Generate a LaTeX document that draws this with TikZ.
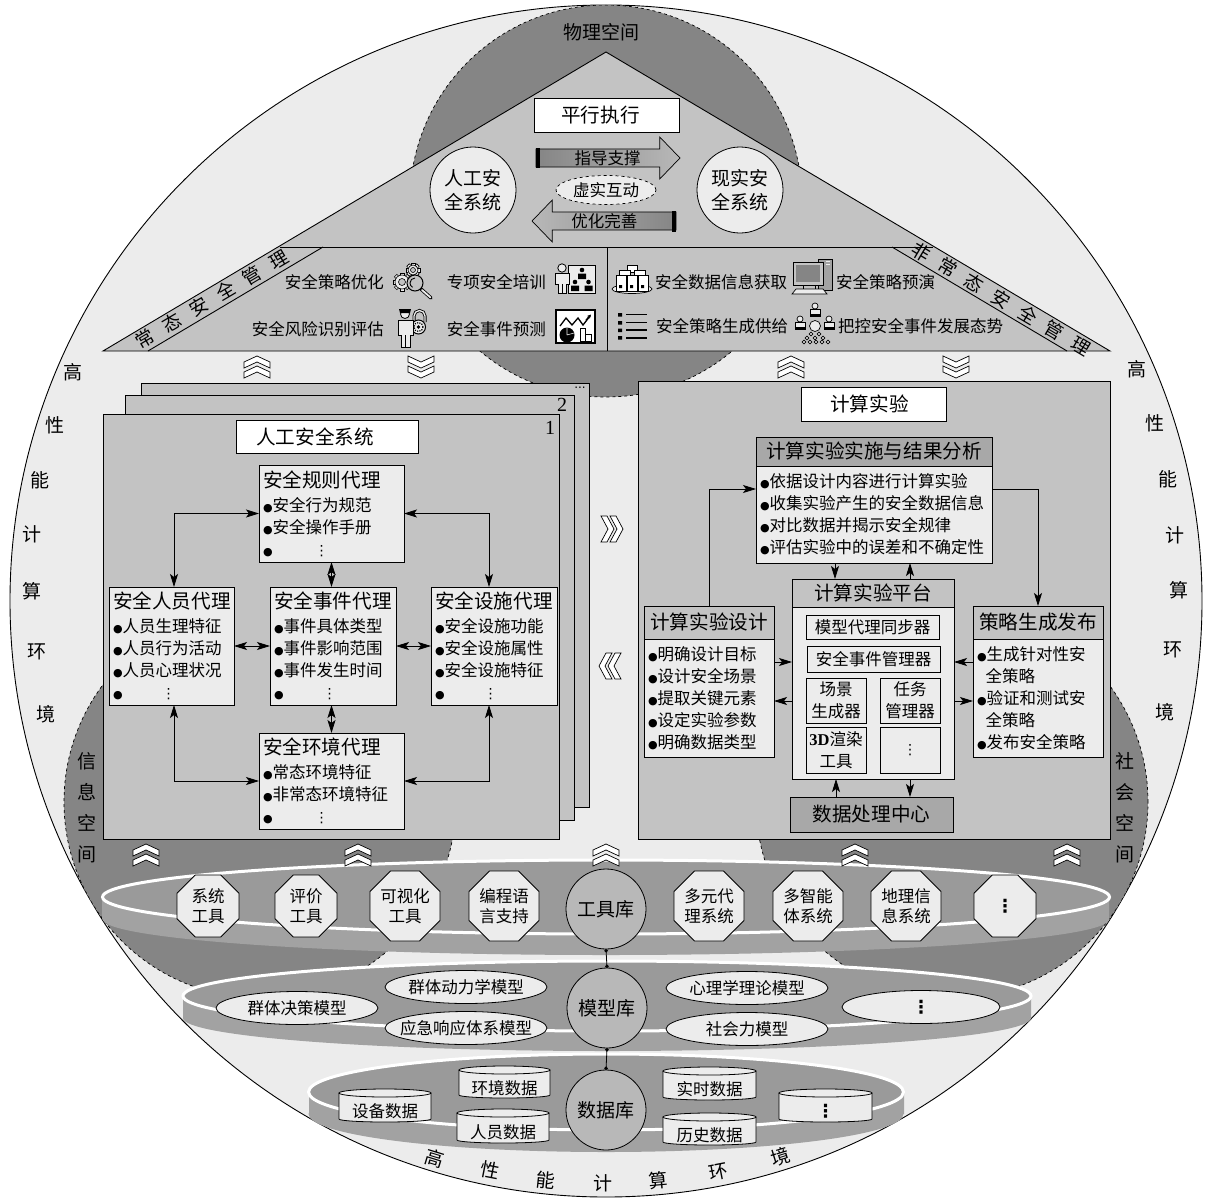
\documentclass[tikz,border=0pt]{standalone}
\usepackage{fontspec}
\setmainfont{Noto Sans CJK SC}
\newfontfamily\dv{DejaVu Sans}
\newfontfamily\lat{Liberation Serif}
\usetikzlibrary{shapes.geometric,shapes.arrows,arrows.meta,calc}
\definecolor{lg}{HTML}{ECECEC}
\definecolor{midg}{HTML}{C3C3C3}
\definecolor{darkg}{HTML}{858585}
\definecolor{layerg}{HTML}{A2A2A2}
\definecolor{layert}{HTML}{9A9A9A}
\definecolor{hubg}{HTML}{B8B8B8}
\definecolor{headg}{HTML}{A8A8A8}
\newcommand\bul{{\dv\fontsize{11}{11}\selectfont ●}}
\newcommand\vd{{\dv\fontsize{14}{14}\selectfont ⋮}}
\newcommand\vdb{{\dv\bfseries\fontsize{18}{18}\selectfont ⋮}}
\newcommand\fsT{\fontsize{19.6}{24}\selectfont}
\newcommand\fsI{\fontsize{16.5}{22}\selectfont}
\newcommand\gp{\hspace{12.5pt}}
\newcommand\gearic[3]{%
  \foreach \a in {0,45,...,315}{\draw[fill=lg,line width=.6pt,shift={(#1,#2)},rotate=\a] (#3-1.5,-1.8) rectangle (#3+2,1.8);}
  \draw[fill=lg,line width=.6pt] (#1,#2) circle[radius={#3 pt}];
  \draw[fill=midg,line width=.6pt] (#1,#2) circle[radius={#3/2 pt}];}
\newcommand\cylnode[6]{%
  \draw[fill=lg,line width=.8pt] (#2,#3+4)--(#2,#5-3) arc[start angle=180,end angle=360,x radius={(#4-#2)/2 pt},y radius=3pt]--(#4,#3+4);
  \draw[fill=lg,line width=.8pt] ({(#2+#4)/2},#3+4) ellipse[x radius={(#4-#2)/2 pt},y radius=4pt];
  \node[lbox={#2}{#3+12}{#4}{#5},draw=none,font=\fontsize{16.5}{20}\selectfont] (#1) {#6};}
\tikzset{
  lbox/.style n args={4}{draw,rectangle,anchor=north west,at={(#1,#2)},
    minimum width={#3-(#1)},minimum height={#4-(#2)},inner sep=0pt,outer sep=0pt,line width=.9pt},
  txbox/.style n args={4}{lbox={#1}{#2}{#3}{#4},fill=lg,align=left,inner xsep=4pt,
    text width={#3-#1-8},font=\fsI},
  titlebox/.style n args={4}{lbox={#1}{#2}{#3}{#4},fill=white,font=\fontsize{19.6}{24}\selectfont},
  headbox/.style n args={4}{lbox={#1}{#2}{#3}{#4},fill=headg,font=\fsT},
  smallbox/.style n args={4}{lbox={#1}{#2}{#3}{#4},fill=lg,align=center,font=\fontsize{16.5}{22}\selectfont},
  lab/.style={inner sep=0pt,font=\fsI},
  sidetx/.style={inner sep=0pt,font=\fontsize{19}{22}\selectfont},
  roundn/.style={circle,draw,fill=lg,minimum size=86pt,inner sep=0pt,outer sep=0pt,align=center,font=\fontsize{19}{24}\selectfont,line width=.8pt},
  hub/.style={circle,draw,fill=hubg,minimum size=80pt,inner sep=0pt,outer sep=0pt,font=\fontsize{19}{24}\selectfont,line width=.8pt},
  octo/.style={regular polygon,regular polygon sides=8,draw,fill=lg,minimum size=67pt,inner sep=0pt,outer sep=0pt,align=center,font=\fontsize{16.5}{20}\selectfont,line width=.8pt},
  ell/.style={ellipse,draw,fill=lg,minimum width=162pt,minimum height=33pt,inner sep=0pt,outer sep=0pt,font=\fontsize{16.5}{20}\selectfont,line width=.8pt},
  dbl/.style={{Stealth[length=13pt,width=8pt,inset=3pt]}-{Stealth[length=13pt,width=8pt,inset=3pt]},line width=.8pt},
  one/.style={-{Stealth[length=13pt,width=8pt,inset=3pt]},line width=.8pt},
  hublink/.style={{Circle[length=3.5pt]}-{Circle[length=3.5pt]},line width=.8pt},
  bigarrow/.style={single arrow,draw,minimum width=42pt,minimum height=144pt,single arrow head extend=10.5pt,single arrow tip angle=92,inner sep=0pt,outer sep=0pt,font=\fsI,line width=.7pt},
  darkcirc/.style={fill=darkg,draw=black,dashed,line width=.7pt},
  pics/upchev/.style={code={
    \draw[fill=white,line width=.7pt] (0,-1)--(13,5)--(13,11)--(0,5)--(-13,11)--(-13,5)--cycle;
    \draw[fill=white,line width=.7pt] (0,-11)--(13,-5)--(13,1)--(0,-5)--(-13,1)--(-13,-5)--cycle;
  }},
  pics/sidechev/.style={code={
    \draw[fill=white,line width=.7pt] (-11,-13)--(-5,-13)--(2,0)--(-5,13)--(-11,13)--(-4,0)--cycle;
    \draw[fill=white,line width=.7pt] (-2,-13)--(4,-13)--(11,0)--(4,13)--(-2,13)--(5,0)--cycle;
  }},
}
\begin{document}
\begin{tikzpicture}[x=1pt,y=-1pt]
\useasboundingbox (0,0) rectangle (1212,1199);
% outer circle
\draw[fill=lg,line width=.9pt] (606,601) circle[radius=596pt];
\begin{scope}
  \clip (606,601) circle[radius=596pt];
  \path[darkcirc] (606,201) circle[radius=196pt];
  \path[darkcirc] (260,802) circle[radius=196pt];
  \path[darkcirc] (952,802) circle[radius=196pt];
\end{scope}
% library layers
\fill[layerg] (102,897) rectangle (1109,919) (606,919) ellipse[x radius=503.5pt,y radius=36pt];
\draw[fill=layert,draw=white,line width=3pt] (606,897) ellipse[x radius=503.5pt,y radius=37pt];
\fill[layerg] (183,996) rectangle (1031,1018) (607,1018) ellipse[x radius=424pt,y radius=33pt];
\draw[fill=layert,draw=white,line width=3pt] (607,996) ellipse[x radius=424pt,y radius=35pt];
\fill[layerg] (309,1092) rectangle (904,1114) (606,1114) ellipse[x radius=297.5pt,y radius=38pt];
\draw[fill=layert,draw=white,line width=3pt] (606,1092) ellipse[x radius=297.5pt,y radius=38pt];
% roof
\draw[fill=midg,line width=.9pt] (606,52)--(1110,351)--(103,351)--cycle;
\draw[line width=.9pt] (280,247)--(933,247);
\draw[line width=.9pt] (148,351)--(323,247);
\draw[line width=.9pt] (892,247)--(1067,351);
\draw[line width=.9pt] (607,247)--(607,351);
\node[rotate=30.6,inner sep=0pt,font=\fontsize{18.5}{22}\selectfont] (lblA) at (212,299) {常\gp 态\gp 安\gp 全\gp 管\gp 理};
\node[rotate=-30.6,inner sep=0pt,font=\fontsize{18.5}{22}\selectfont] (lblB) at (1001,299) {非\gp 常\gp 态\gp 安\gp 全\gp 管\gp 理};
\node[inner sep=0pt,font=\fontsize{19}{24}\selectfont] (phys) at (601,32) {物理空间};
\node[titlebox={534}{98}{679}{132}] (par) {平行执行\hspace*{12pt}};
\node[roundn] (art) at (473,190) {人工安\\全系统};
\node[roundn] (real) at (740,190) {现实安\\全系统};
\node[bigarrow,left color=darkg,right color=hubg,anchor=tail] (guide) at (536,158) {\hspace*{8pt}指导支撑};
\fill (536,148) rectangle (540,168);
\node[bigarrow,left color=hubg,right color=darkg,shape border rotate=180,anchor=tail] (opt) at (676,221) {优化完善\hspace*{8pt}};
\fill (672,211) rectangle (676,232);
\node[ellipse,draw,dashed,fill=lg,minimum width=100pt,minimum height=29pt,inner sep=0pt,font=\fsI,line width=.7pt] (inter) at (606,190) {虚实互动};
% roof item labels
\node[lab,anchor=east] (i1) at (384,282) {安全策略优化};
\node[lab,anchor=east] (i2) at (546,282) {专项安全培训};
\node[lab,anchor=east] (i3) at (384,329) {安全风险识别评估};
\node[lab,anchor=east] (i4) at (546,329) {安全事件预测};
\node[lab,anchor=west] (i5) at (655,282) {安全数据信息获取};
\node[lab,anchor=west] (i6) at (836,282) {安全策略预演};
\node[lab,anchor=west] (i7) at (656,326) {安全策略生成供给};
\node[lab,anchor=west] (i8) at (838,326) {把控安全事件发展态势};
% icon: gears and magnifier
\gearic{413}{270}{5}
\gearic{402}{282}{7}
\draw[line width=3.4pt,line cap=round] (421,289)--(431,298);
\draw[line width=1.8pt,line cap=round,lg] (422,290)--(430.5,297.5);
\draw[fill=midg,line width=1pt] (415,283) circle[radius=8pt];
\draw[line width=.9pt] (415,278) arc[start angle=90,end angle=240,radius=5pt];
% icon: training
\draw[fill=lg,line width=.8pt] (568,265) rectangle (595,293);
\draw[fill=lg,line width=.8pt] (562,268) circle[radius=4.2pt];
\draw[fill=lg,line width=.8pt] (555,273)--(569,273)--(569,284)--(566,284)--(566,293)--(558,293)--(558,284)--(555,284)--cycle;
\draw[line width=.6pt] (562,284)--(562,293);
\fill (582,270) circle[radius=2.3pt] (578,273.5) rectangle (586,279);
\fill (575,282) circle[radius=2.3pt] (571,285.5) rectangle (579,291);
\fill (588.5,282) circle[radius=2.3pt] (584.5,285.5) rectangle (592.5,291);
% icon: guard with lock
\draw[line width=3pt] (414,322)--(414,316) arc[start angle=180,end angle=0,radius=5.5pt]--(425,322);
\draw[line width=1.3pt,lg] (414,322)--(414,316) arc[start angle=180,end angle=0,radius=5.5pt]--(425,322);
\draw[fill=lg,line width=1pt] (418.5,327) circle[radius=7pt];
\draw[line width=1.2pt,dash pattern=on 1.2pt off 1.2pt] (418.5,327) circle[radius=4.5pt];
\fill (418.5,327) circle[radius=1.8pt];
\draw[fill=lg,line width=.8pt] (405,314) circle[radius=4.5pt];
\fill (399,309) -- (411,309) -- (410,313) -- (400,313) -- cycle;
\draw[fill=lg,line width=.8pt] (398,320)--(413,320)--(413,335)--(410,335)--(410,347)--(401,347)--(401,335)--(398,335)--cycle;
\draw[line width=.6pt] (405.5,335)--(405.5,347);
% icon: chart box
\draw[fill=white,line width=1.1pt] (556,310) rectangle (595,343);
\draw[line width=1.3pt] (560,326)--(566,318)--(572,325)--(578,318)--(583,325)--(590,316);
\draw[-{Stealth[length=4pt,width=4pt]},line width=1.2pt] (586,320)--(591,314.5);
\fill (567,335) circle[radius=7.5pt];
\draw[lg,line width=.6pt] (567,335)--(567,327.5) (567,335)--(574,333);
\draw[fill=white,line width=.8pt] (580,328) rectangle (585,341) (585,334) rectangle (591,341);
% icon: servers
\draw[fill=lg,line width=.7pt] (632,289) ellipse[x radius=20pt,y radius=4.5pt];
\draw[fill=white,line width=.7pt] (627,265) rectangle (637,272);
\draw[fill=white,line width=.7pt] (619,270) rectangle (630,278);
\draw[fill=white,line width=.7pt] (634,270) rectangle (645,278);
\draw[fill=white,line width=.7pt] (616,275) rectangle (626,291);
\draw[fill=white,line width=.7pt] (627,275) rectangle (637,291);
\draw[fill=white,line width=.7pt] (638,275) rectangle (648,291);
\fill (619,285) rectangle (622,288) (630,285) rectangle (633,288) (641,285) rectangle (644,288);
% icon: computer
\draw[fill=layerg,line width=.8pt] (818,259) rectangle (832,290);
\draw[lg,line width=.8pt] (826,261.5)--(830,261.5) (826,264)--(830,264);
\draw[fill=midg,line width=.9pt] (793,262) rectangle (823,285);
\fill[darkg] (796,265) rectangle (820,282);
\draw[line width=.7pt] (803,285) rectangle (815,289);
\draw[fill=lg,line width=.7pt] (796,289)--(823,289)--(827,294)--(792,294)--cycle;
% icon: list
\fill (618,313) rectangle (622,316.5) (618,321) rectangle (622,324.5) (618,328.5) rectangle (622,332) (618,336) rectangle (622,339.5);
\draw[line width=1.6pt] (626,314.5)--(647,314.5) (626,322.5)--(647,322.5) (626,330)--(647,330) (626,338)--(647,338);
% icon: people
\foreach \ix/\iy in {815/306,800/319,829/319}{
  \draw[fill=lg,line width=.7pt] (\ix,\iy) circle[radius=3pt];
  \draw[fill=lg,line width=.7pt] (\ix-5,\iy+3) rectangle (\ix+5,\iy+10);
  \fill (\ix-5,\iy+7.5) rectangle (\ix+5,\iy+10);
}
\draw[fill=lg,line width=.7pt] (815,326) circle[radius=5.5pt];
\foreach \ix/\iy in {811/334,819/334,807/338,815/338,823/338,804/342,810/342,816/342,822/342,828/342}{
  \draw[fill=lg,line width=.6pt] (\ix,\iy) circle[radius=1.9pt];
}
% chevrons under roof
\pic at (257,367) {upchev};
\pic[rotate=180] at (421,367) {upchev};
\pic at (791,367) {upchev};
\pic[rotate=180] at (956,367) {upchev};
% stacked pages
\draw[fill=midg,line width=.9pt] (141,383) rectangle (589,807);
\draw[fill=midg,line width=.9pt] (125,395) rectangle (574,820);
\draw[fill=midg,line width=.9pt] (103,414) rectangle (559,839);
\node[inner sep=0pt,font=\fontsize{12}{12}\selectfont\dv] (p3) at (580,388) {...};
\node[inner sep=0pt,font=\fontsize{20}{20}\selectfont\lat] (p2) at (562,405) {2};
\node[inner sep=0pt,font=\fontsize{20}{20}\selectfont\lat] (p1) at (550,428) {1};
\node[titlebox={236}{420}{418}{453}] (arttitle) {人工安全系统\hspace*{24pt}};
% agents
\node[txbox={259}{465}{404}{562}] (rule) {{\fsT 安全规则代理}\\[2pt]\bul 安全行为规范\\\bul 安全操作手册\\\bul\hspace{42pt}\vd};
\node[txbox={109}{587}{234}{705}] (person) {{\fsT 安全人员代理}\\[2pt]\bul 人员生理特征\\\bul 人员行为活动\\\bul 人员心理状况\\\bul\hspace{39pt}\vd};
\node[txbox={270}{587}{396}{705}] (event) {{\fsT 安全事件代理}\\[2pt]\bul 事件具体类型\\\bul 事件影响范围\\\bul 事件发生时间\\\bul\hspace{39pt}\vd};
\node[txbox={431}{587}{557}{705}] (fac) {{\fsT 安全设施代理}\\[2pt]\bul 安全设施功能\\\bul 安全设施属性\\\bul 安全设施特征\\\bul\hspace{39pt}\vd};
\node[txbox={259}{733}{404}{829}] (env) {{\fsT 安全环境代理}\\[2pt]\bul 常态环境特征\\\bul 非常态环境特征\\\bul\hspace{42pt}\vd};
\draw[dbl] ([xshift=2.5pt]person.north) |- (rule.west);
\draw[dbl] ([xshift=-5pt]fac.north) |- (rule.east);
\draw[dbl] ([xshift=2.5pt]person.south) |- (env.west);
\draw[dbl] ([xshift=-5pt]fac.south) |- (env.east);
\draw[dbl] (person.east) -- (event.west);
\draw[dbl] (event.east) -- (fac.west);
\draw[dbl] (rule.south) -- (rule.south |- event.north);
\draw[dbl] (env.north) -- (env.north |- event.south);
% between panels
\pic at (612,529) {sidechev};
\pic[rotate=180] at (610,666) {sidechev};
% right panel
\draw[fill=midg,line width=.9pt] (638,381) rectangle (1110,839);
\node[titlebox={801}{387}{946}{421}] (exptitle) {计算实验\hspace*{8pt}};
\node[headbox={756}{437}{992}{466}] (resh) {计算实验实施与结果分析};
\node[txbox={756}{466}{992}{563}] (res) {\bul 依据设计内容进行计算实验\\\bul 收集实验产生的安全数据信息\\\bul 对比数据并揭示安全规律\\\bul 评估实验中的误差和不确定性};
\node[headbox={792}{579}{954}{607},fill=midg] (plath) {计算实验平台};
\node[lbox={792}{607}{954}{779},fill=lg] (platb) {};
\node[smallbox={806}{615}{939}{639}] (s1) {模型代理同步器};
\node[smallbox={807}{646}{940}{672}] (s2) {安全事件管理器};
\node[smallbox={806}{678}{866}{723}] (s3) {场景\\生成器};
\node[smallbox={880}{678}{940}{723}] (s4) {任务\\管理器};
\node[smallbox={806}{727}{866}{773}] (s5) {{\lat\bfseries 3D}渲染\\工具};
\node[smallbox={880}{727}{940}{773}] (s6) {\vd};
\node[headbox={644}{606}{774}{639},fill=midg] (desh) {计算实验设计};
\node[txbox={644}{639}{774}{757}] (desb) {\bul 明确设计目标\\\bul 设计安全场景\\\bul 提取关键元素\\\bul 设定实验参数\\\bul 明确数据类型};
\node[headbox={973}{606}{1103}{639},fill=midg] (polh) {策略生成发布};
\node[txbox={973}{639}{1103}{757}] (polb) {\bul 生成针对性安\\\hspace*{8.5pt}全策略\\\bul 验证和测试安\\\hspace*{8.5pt}全策略\\\bul 发布安全策略};
\node[headbox={790}{797}{953}{832}] (dc) {数据处理中心};
\draw[one] (desh.north) |- ([yshift=25.5pt]res.west);
\draw[one] ([yshift=25.5pt]res.east) -| (polh.north);
\draw[one] ([xshift=-39pt]res.south) -- ([xshift=-39pt]res.south |- plath.north);
\draw[one] ([xshift=36pt]res.south |- plath.north) -- ([xshift=36pt]res.south);
\draw[one] ([yshift=36pt]desb.east) -- ([yshift=36pt]desb.east -| platb.west);
\draw[one] ([yshift=-3pt]desb.east -| platb.west) -- ([yshift=-3pt]desb.east);
\draw[one] ([yshift=36pt]polb.west) -- ([yshift=36pt]polb.west -| platb.east);
\draw[one] ([yshift=-3pt]polb.west -| platb.east) -- ([yshift=-3pt]polb.west);
\draw[one] ([xshift=-35.5pt]dc.north) -- ([xshift=-35.5pt]dc.north |- platb.south);
\draw[one] ([xshift=38.5pt]dc.north |- platb.south) -- ([xshift=38.5pt]dc.north);
% space labels
\node[sidetx,align=center,text width=20pt] (info) at (87,808) {信\\[9pt]息\\[9pt]空\\[9pt]间};
\node[sidetx,align=center,text width=20pt] (soc) at (1125,808) {社\\[9pt]会\\[9pt]空\\[9pt]间};
% chevrons over the tool layer
\pic at (146,855) {upchev};
\pic at (358,855) {upchev};
\pic at (606,855) {upchev};
\pic at (855,855) {upchev};
\pic at (1067,855) {upchev};
% tool library
\node[hub] (tool) at (606,909) {工具库};
\node[hub] (model) at (607,1008) {模型库};
\node[hub] (data) at (606,1110) {数据库};
\draw[hublink] (tool.south) -- (model.north);
\draw[hublink] (model.south) -- (data.north);
\node[octo] (o1) at (208,906) {系统\\工具};
\node[octo] (o2) at (306,906) {评价\\工具};
\node[octo] (o3) at (405,906) {可视化\\工具};
\node[octo] (o4) at (504,906) {编程语\\言支持};
\node[octo] (o5) at (709,906) {多元代\\理系统};
\node[octo] (o6) at (808,906) {多智能\\体系统};
\node[octo] (o7) at (906,906) {地理信\\息系统};
\node[octo] (o8) at (1005,906) {\vdb};
% model library
\node[ell] (e1) at (297,1008) {\makebox[100pt][c]{群体决策模型}};
\node[ell] (e2) at (466,987) {\makebox[100pt][c]{群体动力学模型}};
\node[ell] (e3) at (466,1028) {\makebox[100pt][c]{应急响应体系模型}};
\node[ell] (e4) at (747,988) {\makebox[100pt][c]{心理学理论模型}};
\node[ell] (e5) at (747,1029) {\makebox[100pt][c]{社会力模型}};
\node[ell,minimum width=158pt] (e6) at (921,1007) {\vdb};
% data library
\cylnode{c1}{339}{1089}{431}{1122}{设备数据}
\cylnode{c2}{459}{1066}{550}{1098}{环境数据}
\cylnode{c3}{457}{1109}{549}{1143}{人员数据}
\cylnode{c4}{663}{1067}{756}{1100}{实时数据}
\cylnode{c5}{663}{1113}{756}{1145}{历史数据}
\cylnode{c6}{779}{1089}{872}{1122}{\vdb}
% environment text
\foreach \ch/\ix/\iy [count=\k] in {高/73/372,性/55/425,能/40/480,计/32/534,算/32/591,环/37/652,境/46/714}{
  \node[sidetx] (envL\k) at (\ix,\iy) {\ch};
}
\foreach \ch/\ix/\iy [count=\k] in {高/1137/369,性/1155/423,能/1168/479,计/1175/535,算/1179/590,环/1173/650,境/1165/712}{
  \node[sidetx] (envR\k) at (\ix,\iy) {\ch};
}
\foreach \ch/\ix/\iy/\ia [count=\k] in {高/435/1158/-17,性/490/1170/-11,能/546/1180/-6,计/603/1183/0,算/658/1180/5,环/719/1172/11,境/780/1157/17}{
  \node[sidetx,rotate=\ia] (envB\k) at (\ix,\iy) {\ch};
}
\end{tikzpicture}
\end{document}
